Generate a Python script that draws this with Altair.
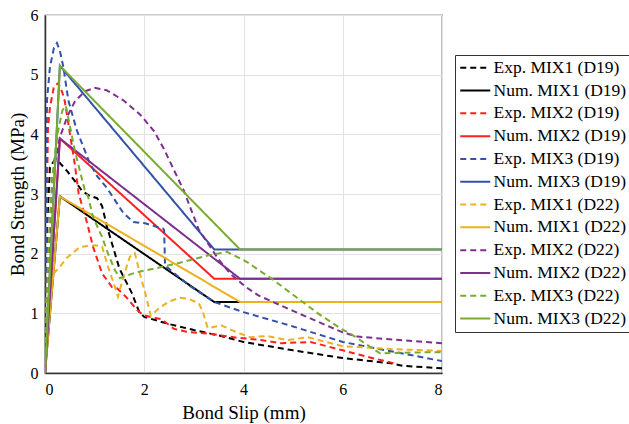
import altair as alt
import pandas as pd

names = ["Exp. MIX1 (D19)", "Num. MIX1 (D19)", "Exp. MIX2 (D19)", "Num. MIX2 (D19)",
         "Exp. MIX3 (D19)", "Num. MIX3 (D19)", "Exp. MIX1 (D22)", "Num. MIX1 (D22)",
         "Exp. MIX2 (D22)", "Num. MIX2 (D22)", "Exp. MIX3 (D22)", "Num. MIX3 (D22)"]
colors = ["#000000", "#000000", "#FF1F1F", "#FF1F1F", "#3352A8", "#3352A8",
          "#EDB120", "#EDB120", "#7E2F8E", "#7E2F8E", "#77AC30", "#77AC30"]
dashes = [[6, 4], [1, 0]] * 6

# Experimental curves
e1_19_x = [0, 0.04, 0.1, 0.2, 0.3, 0.45, 0.6, 0.75, 0.9, 1.05, 1.15, 1.25, 1.5, 1.75, 1.9, 2.0, 2.5, 3.0, 3.5, 4.0, 5.0, 6.0, 7.0, 7.2, 8.0]
e1_19_y = [0, 2.4, 3.45, 3.58, 3.52, 3.38, 3.22, 3.05, 2.97, 2.93, 2.8, 2.45, 1.75, 1.34, 1.02, 0.94, 0.82, 0.72, 0.63, 0.52, 0.38, 0.25, 0.16, 0.12, 0.08]

e2_19_x = [0, 0.03, 0.06, 0.1, 0.18, 0.27, 0.35, 0.4, 0.5, 0.6, 0.68, 0.85, 0.97, 1.15, 1.35, 1.45, 1.65, 1.85, 1.98, 2.22, 2.35, 2.6, 2.85, 3.3, 3.87, 4.3, 4.75, 5.35, 6.0, 6.5, 7.0, 7.1]
e2_19_y = [0, 2.5, 4.1, 4.45, 4.8, 4.86, 4.7, 4.55, 4.02, 3.5, 3.0, 2.51, 2.11, 1.67, 1.44, 1.42, 1.26, 1.06, 0.97, 0.92, 0.9, 0.74, 0.69, 0.66, 0.59, 0.56, 0.5, 0.52, 0.38, 0.27, 0.17, 0.15]

e3_19_x = [0, 0.02, 0.04, 0.1, 0.18, 0.24, 0.3, 0.37, 0.47, 0.64, 0.9, 1.05, 1.25, 1.58, 1.78, 2.02, 2.32, 2.38, 2.4, 2.42, 2.9, 3.41, 4.0, 5.0, 6.0, 7.0, 8.0]
e3_19_y = [0, 2.0, 4.57, 5.13, 5.45, 5.53, 5.4, 5.13, 4.57, 4.07, 3.52, 3.3, 3.1, 2.68, 2.53, 2.51, 2.43, 2.42, 2.4, 1.8, 1.47, 1.19, 1.02, 0.78, 0.52, 0.36, 0.2]

e1_22_x = [0, 0.03, 0.1, 0.2, 0.3, 0.44, 0.7, 1.0, 1.15, 1.27, 1.41, 1.47, 1.58, 1.71, 1.81, 1.91, 2.02, 2.13, 2.32, 2.5, 2.72, 2.9, 3.1, 3.19, 3.28, 3.55, 3.87, 4.13, 4.48, 4.88, 5.3, 6.0, 7.0, 8.0]
e1_22_y = [0, 1.2, 2.03, 1.69, 1.78, 1.93, 2.11, 2.14, 2.12, 1.78, 1.44, 1.28, 1.61, 1.95, 2.01, 1.67, 1.34, 0.96, 1.1, 1.2, 1.26, 1.24, 1.17, 1.0, 0.75, 0.8, 0.68, 0.6, 0.62, 0.55, 0.6, 0.45, 0.4, 0.37]

e2_22_x = [0, 0.05, 0.15, 0.3, 0.45, 0.6, 0.8, 1.0, 1.24, 1.58, 1.92, 2.2, 2.4, 2.6, 2.8, 3.1, 3.5, 3.75, 4.05, 4.3, 5.0, 6.0, 6.3, 7.0, 8.0]
e2_22_y = [0, 1.5, 3.3, 3.95, 4.3, 4.55, 4.72, 4.78, 4.74, 4.57, 4.33, 4.05, 3.75, 3.4, 3.05, 2.4, 1.9, 1.65, 1.44, 1.3, 1.04, 0.68, 0.61, 0.56, 0.5]

e3_22_x = [0, 0.03, 0.08, 0.15, 0.25, 0.35, 0.42, 0.5, 0.6, 0.7, 0.8, 0.87, 0.97, 1.15, 1.27, 1.41, 1.51, 1.85, 2.26, 2.78, 3.33, 3.67, 4.07, 4.6, 5.08, 5.5, 5.95, 6.19, 6.75, 7.16, 8.0]
e3_22_y = [0, 1.0, 2.3, 3.3, 4.0, 4.4, 4.48, 4.15, 3.73, 3.4, 3.07, 2.95, 2.61, 2.28, 2.0, 1.72, 1.59, 1.69, 1.76, 1.86, 1.98, 2.03, 1.86, 1.56, 1.26, 1.0, 0.75, 0.64, 0.33, 0.34, 0.35]

# Numerical (trilinear) curves
n1_19_x = [0, 0.3, 3.41, 8.0]
n1_19_y = [0, 2.96, 1.19, 1.19]
n2_19_x = [0, 0.3, 3.41, 8.0]
n2_19_y = [0, 3.93, 1.58, 1.58]
n3_19_x = [0, 0.3, 3.41, 8.0]
n3_19_y = [0, 5.15, 2.07, 2.07]
n1_22_x = [0, 0.3, 3.93, 8.0]
n1_22_y = [0, 2.96, 1.19, 1.19]
n2_22_x = [0, 0.3, 3.93, 8.0]
n2_22_y = [0, 3.93, 1.58, 1.58]
n3_22_x = [0, 0.3, 3.93, 8.0]
n3_22_y = [0, 5.15, 2.07, 2.07]

series = [(e1_19_x, e1_19_y), (n1_19_x, n1_19_y), (e2_19_x, e2_19_y), (n2_19_x, n2_19_y),
          (e3_19_x, e3_19_y), (n3_19_x, n3_19_y), (e1_22_x, e1_22_y), (n1_22_x, n1_22_y),
          (e2_22_x, e2_22_y), (n2_22_x, n2_22_y), (e3_22_x, e3_22_y), (n3_22_x, n3_22_y)]

rows = []
for k, (name, (xs, ys)) in enumerate(zip(names, series)):
    for i, (xv, yv) in enumerate(zip(xs, ys)):
        rows.append({"series": name, "x": xv, "y": yv, "idx": i, "k": k})
df = pd.DataFrame(rows)

FONT = "Liberation Serif"

leg = alt.Legend(
    title=None, orient="none", legendX=410, legendY=40,
    symbolType="M-1,0H3", symbolSize=225, symbolStrokeWidth=2,
    labelFont=FONT, labelFontSize=17.5, labelColor="#000000", labelOffset=17,
    rowPadding=3.8, padding=4, strokeColor="#333333", fillColor="#ffffff",
    cornerRadius=0,
)

chart = alt.Chart(df).mark_line(strokeWidth=2, clip=True).encode(
    x=alt.X("x:Q", scale=alt.Scale(domain=[0, 8], nice=False),
            axis=alt.Axis(values=[0, 2, 4, 6, 8], title="Bond Slip (mm)",
                          labelPadding=8, titlePadding=6,
                          labelFont=FONT, titleFont=FONT)),
    y=alt.Y("y:Q", scale=alt.Scale(domain=[0, 6], nice=False),
            axis=alt.Axis(values=[0, 1, 2, 3, 4, 5, 6], title="Bond Strength (MPa)",
                          labelPadding=7, titlePadding=3,
                          labelFont=FONT, titleFont=FONT)),
    color=alt.Color("series:N", scale=alt.Scale(domain=names, range=colors), legend=leg),
    strokeDash=alt.StrokeDash("series:N", scale=alt.Scale(domain=names, range=dashes), legend=leg),
    order="idx:Q",
).properties(
    width=397, height=358,
    autosize=alt.AutoSizeParams(type="none"),
    padding={"left": 45, "top": 15, "right": 187, "bottom": 51},
).configure(
    font=FONT,
).configure_axis(
    labelFontSize=16, labelColor="#000000",
    titleFontSize=19, titleFontWeight="normal", titleColor="#000000",
    grid=True, gridColor="#e2e2e2", gridWidth=1,
    domainColor="#333333", domainWidth=1.5, tickSize=0,
).configure_legend(
    labelFont=FONT, rowPadding=3.8,
).configure_view(
    stroke="#333333", strokeWidth=1.2,
)

chart.save("out.html", embed_options={"renderer": "svg", "actions": False})
